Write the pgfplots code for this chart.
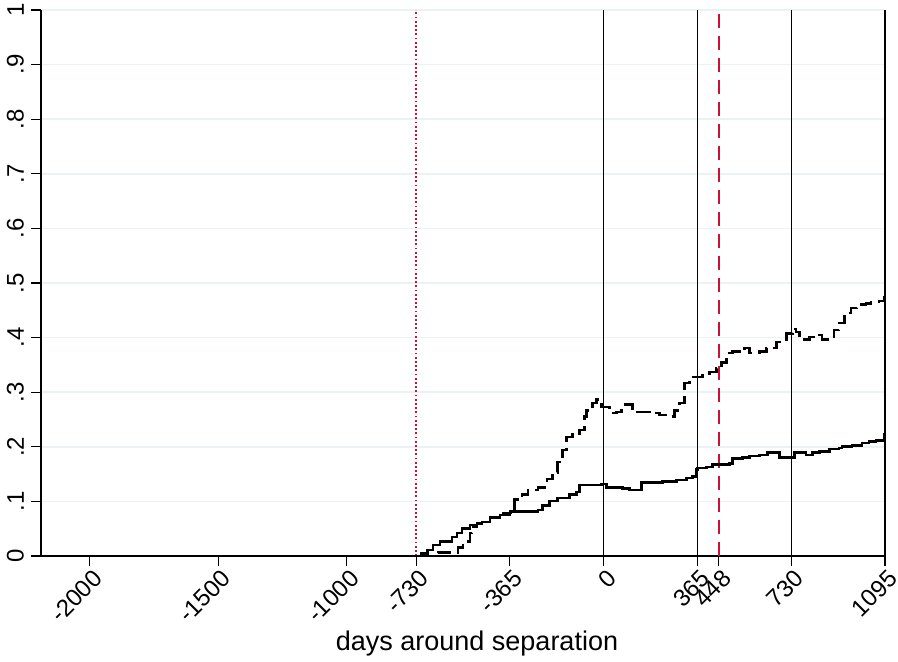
\documentclass[border=0pt]{standalone}
\usepackage{pgfplots}
\pgfplotsset{compat=1.18}
\usepackage{fontspec}
\setmainfont{Liberation Sans}
\definecolor{gridc}{RGB}{234,242,243}
\definecolor{redc}{RGB}{205,16,58}
\begin{document}
\begin{tikzpicture}
\begin{axis}[
  name=ax,
  scale only axis,
  width=422pt, height=273pt,
  xmin=-2190, xmax=1095,
  ymin=0, ymax=1,
  axis lines*=left,
  axis line style={-, line width=0.75pt},
  xtick={-2000,-1500,-1000,-730,-365,0,365,448,730,1095},
  xticklabels={-2000,-1500,-1000,-730,-365,0,365,448,730,1095},
  ytick={0,0.1,0.2,0.3,0.4,0.5,0.6,0.7,0.8,0.9,1},
  yticklabels={0,.1,.2,.3,.4,.5,.6,.7,.8,.9,1},
  tick align=outside,
  major tick length=5pt,
  tick style={black, line width=0.6pt},
  xticklabel style={rotate=45, anchor=north east, font=\fontsize{12}{14}\selectfont, inner sep=0pt, xshift=0pt, yshift=-1.5pt},
  yticklabel style={rotate=90, anchor=south, font=\fontsize{12}{14}\selectfont},
  ymajorgrids,
  grid style={gridc, line width=0.75pt},
  xlabel={days around separation},
  xlabel style={at={(axis description cs:0.5,0)}, anchor=base, yshift=-47.5pt, xshift=7pt, font=\fontsize{13.5}{16}\selectfont},
  clip=false,
]
% reference lines
\addplot[black, line width=0.6pt] coordinates {(0,0) (0,1)};
\addplot[black, line width=0.6pt] coordinates {(365,0) (365,1)};
\addplot[black, line width=0.6pt] coordinates {(730,0) (730,1)};
\addplot[black, line width=0.6pt] coordinates {(1095,0) (1095,1)};
\addplot[redc, line width=0.8pt, dash pattern=on 0.9pt off 1.2pt] coordinates {(-730,0) (-730,1)};
\addplot[redc, line width=1.2pt, dash pattern=on 7pt off 4pt] coordinates {(448,0) (448,1)};
% dashed series
\addplot[black, line width=1.35pt, const plot, dash pattern=on 7pt off 3pt] coordinates {
(-2190,0) (-645,0) (-645,0.007) (-586,0.007) (-567,0.015) (-548,0.02) (-528,0.026)
(-520,0.042) (-513,0.053) (-493,0.06) (-474,0.062) (-443,0.07) (-404,0.075)
(-392,0.079) (-346,0.103) (-318,0.112) (-295,0.121) (-256,0.125) (-229,0.126)
(-221,0.141) (-198,0.153) (-179,0.172) (-159,0.194) (-144,0.218) (-120,0.222)
(-93,0.231) (-74,0.255) (-66,0.267) (-43,0.28) (-27,0.286) (-8,0.273) (23,0.262)
(50,0.264) (70,0.277) (113,0.264) (140,0.264) (179,0.262) (217,0.258) (249,0.255)
(276,0.267) (295,0.28) (315,0.317) (334,0.328) (384,0.331) (412,0.337) (439,0.344)
(458,0.355) (478,0.372) (501,0.374) (536,0.377) (548,0.381) (567,0.372) (606,0.374)
(633,0.381) (672,0.392) (711,0.407) (734,0.416) (749,0.41) (761,0.397) (800,0.401)
(839,0.405) (850,0.397) (878,0.401) (897,0.414) (916,0.427) (936,0.445) (963,0.454)
(986,0.46) (1021,0.463) (1041,0.465) (1072,0.467) (1091,0.474) (1095,0.476)
};
% solid series
\addplot[black, line width=1.35pt, const plot] coordinates {
(-2190,0) (-730,0) (-710,0.005) (-687,0.011) (-664,0.02) (-637,0.026) (-610,0.027)
(-590,0.035) (-571,0.042) (-551,0.051) (-520,0.057) (-493,0.06) (-474,0.062)
(-443,0.07) (-404,0.075) (-365,0.081) (-326,0.081) (-287,0.081) (-256,0.084)
(-237,0.093) (-210,0.101) (-179,0.106) (-132,0.112) (-105,0.117) (-93,0.13)
(-43,0.13) (-8,0.132) (12,0.126) (50,0.126) (74,0.123) (101,0.121) (140,0.121)
(148,0.134) (190,0.134) (229,0.136) (284,0.139) (322,0.143) (346,0.145) (361,0.158)
(365,0.161) (400,0.163) (423,0.167) (450,0.167) (489,0.17) (501,0.179) (540,0.181)
(567,0.183) (606,0.185) (637,0.19) (672,0.189) (683,0.181) (722,0.181) (742,0.189)
(788,0.185) (812,0.189) (839,0.192) (878,0.196) (916,0.198) (928,0.2) (967,0.203)
(1006,0.207) (1033,0.21) (1060,0.212) (1091,0.222) (1095,0.222)
};
\end{axis}
\pgfresetboundingbox
\path[use as bounding box] (ax.south west) ++(-20.5pt,-53pt) rectangle ([shift={(6.5pt,5pt)}]ax.north east);
\end{tikzpicture}
\end{document}
